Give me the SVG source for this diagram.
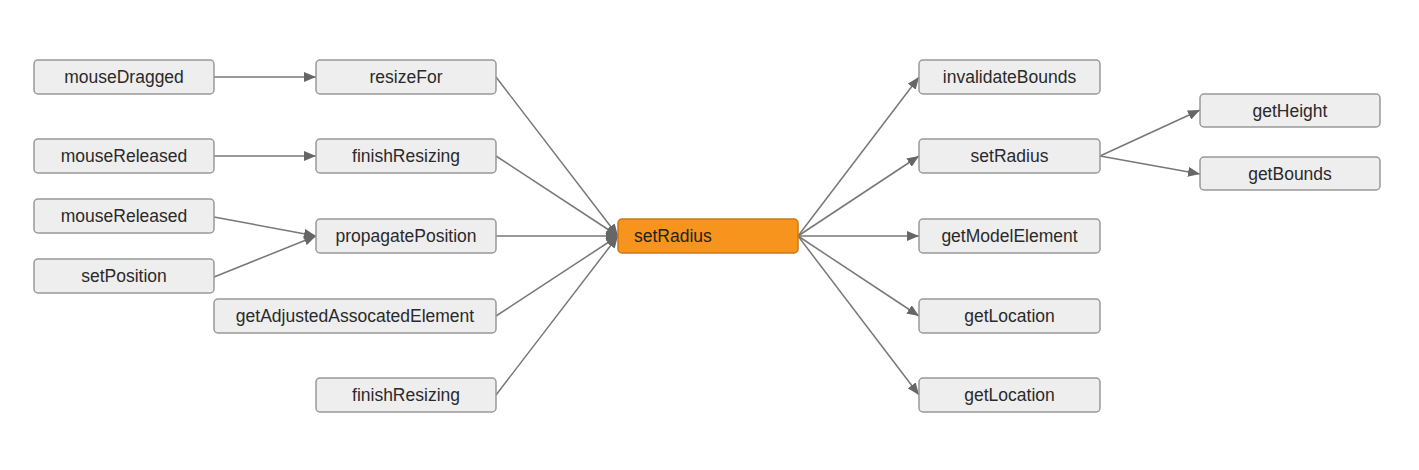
<svg xmlns="http://www.w3.org/2000/svg" width="1419" height="470" viewBox="0 0 1419 470">
<style>
.n rect{fill:#eeeeee;stroke:#999999;stroke-width:1.5}
.n text{font-family:"Liberation Sans",Arial,sans-serif;font-size:17.5px;fill:#2a2a2a;text-anchor:middle;dominant-baseline:central}
#n_center rect{fill:#f7941d;stroke:#c77a1a}
#n_center text{text-anchor:start;fill:#222}
.e path{fill:none;stroke:#777777;stroke-width:1.5;marker-end:url(#ah)}
</style>
<defs>
<marker id="ah" viewBox="0 0 12 10" refX="12" refY="5" markerWidth="12" markerHeight="10" markerUnits="userSpaceOnUse" orient="auto">
<path d="M0,0 L12,5 L0,10 Z" fill="#666666"/>
</marker>
</defs>
<rect width="1419" height="470" fill="#ffffff"/>
<g id="edges" class="e">
<path d="M214,77 L316,77"/>
<path d="M214,156 L316,156"/>
<path d="M214,217 L316,236"/>
<path d="M214,277 L316,236"/>
<path d="M496,77 L618,236"/>
<path d="M496,156 L618,236"/>
<path d="M496,236 L618,236"/>
<path d="M496,316 L618,236"/>
<path d="M496,395 L618,236"/>
<path d="M798,236 L919,77"/>
<path d="M798,236 L919,156"/>
<path d="M798,236 L919,236"/>
<path d="M798,236 L919,316"/>
<path d="M798,236 L919,395"/>
<path d="M1100,156 L1200,110"/>
<path d="M1100,156 L1200,174"/>
</g>
<g id="n_mouseDragged" class="n"><rect x="34" y="60" width="180" height="34" rx="4"/><text x="124" y="77">mouseDragged</text></g>
<g id="n_mouseReleased1" class="n"><rect x="34" y="139" width="180" height="34" rx="4"/><text x="124" y="156">mouseReleased</text></g>
<g id="n_mouseReleased2" class="n"><rect x="34" y="199" width="180" height="34" rx="4"/><text x="124" y="216">mouseReleased</text></g>
<g id="n_setPosition" class="n"><rect x="34" y="259" width="180" height="34" rx="4"/><text x="124" y="276">setPosition</text></g>
<g id="n_resizeFor" class="n"><rect x="316" y="60" width="180" height="34" rx="4"/><text x="406" y="77">resizeFor</text></g>
<g id="n_finishResizing1" class="n"><rect x="316" y="139" width="180" height="34" rx="4"/><text x="406" y="156">finishResizing</text></g>
<g id="n_propagatePosition" class="n"><rect x="316" y="219" width="180" height="34" rx="4"/><text x="406" y="236">propagatePosition</text></g>
<g id="n_getAdjusted" class="n"><rect x="214" y="299" width="282" height="34" rx="4"/><text x="355" y="316">getAdjustedAssocatedElement</text></g>
<g id="n_finishResizing2" class="n"><rect x="316" y="378" width="180" height="34" rx="4"/><text x="406" y="395">finishResizing</text></g>
<g id="n_center" class="n"><rect x="618" y="219" width="180" height="34" rx="4"/><text x="634" y="236">setRadius</text></g>
<g id="n_invalidateBounds" class="n"><rect x="919" y="60" width="181" height="34" rx="4"/><text x="1009.5" y="77">invalidateBounds</text></g>
<g id="n_setRadius2" class="n"><rect x="919" y="139" width="181" height="34" rx="4"/><text x="1009.5" y="156">setRadius</text></g>
<g id="n_getModelElement" class="n"><rect x="919" y="219" width="181" height="34" rx="4"/><text x="1009.5" y="236">getModelElement</text></g>
<g id="n_getLocation1" class="n"><rect x="919" y="299" width="181" height="34" rx="4"/><text x="1009.5" y="316">getLocation</text></g>
<g id="n_getLocation2" class="n"><rect x="919" y="378" width="181" height="34" rx="4"/><text x="1009.5" y="395">getLocation</text></g>
<g id="n_getHeight" class="n"><rect x="1200" y="94" width="180" height="33" rx="4"/><text x="1290" y="110.5">getHeight</text></g>
<g id="n_getBounds" class="n"><rect x="1200" y="157" width="180" height="33" rx="4"/><text x="1290" y="173.5">getBounds</text></g>
</svg>
